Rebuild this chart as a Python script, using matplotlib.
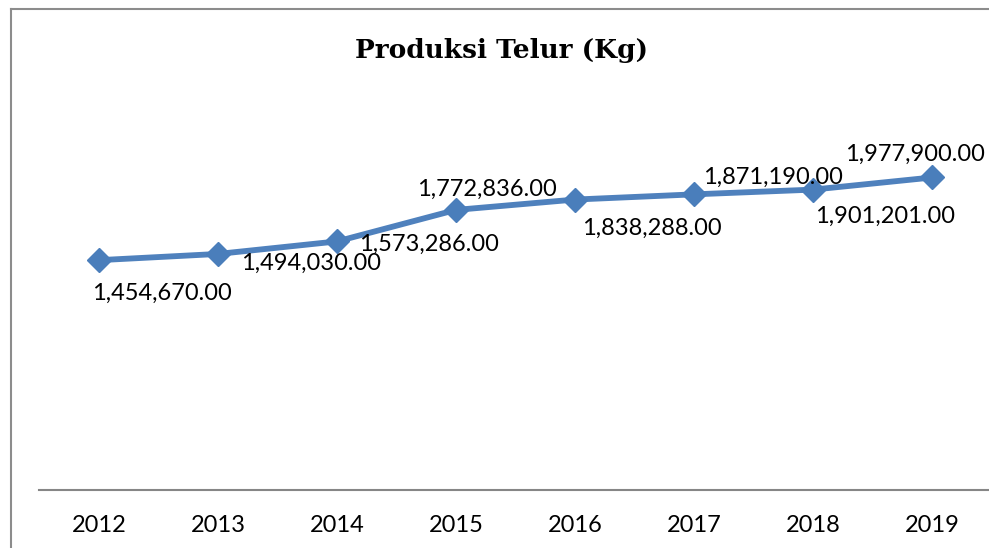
import matplotlib
matplotlib.use("Agg")
import matplotlib.pyplot as plt
from matplotlib.lines import Line2D

years = ["2012", "2013", "2014", "2015", "2016", "2017", "2018", "2019"]
production = [1454670, 1494030, 1573286, 1772836, 1838288, 1871190, 1901201, 1977900]
# label offsets in points (dx, dy) relative to each marker
label_offsets = [(45, -24), (67, -7), (66, -2), (22, 15), (55, -21), (57, 12), (52, -19), (-12, 17)]

W, H = 989, 548
fig = plt.figure(figsize=(W / 100, H / 100), dpi=100)
# axes: x from 39.5 to 991.5 px, y from 95 to 490 px (top-origin)
ax = fig.add_axes([39.5 / W, (H - 490) / H, (991.5 - 39.5) / W, (490 - 95) / H])
ax.set_xlim(-0.5, len(years) - 0.5)
ax.set_ylim(0, 2500000)

xs = list(range(len(years)))
ax.plot(xs, production, color="#4F81BD", lw=4.2, marker="D", markersize=12,
        markerfacecolor="#4A7EBB", markeredgecolor="#4A7EBB", solid_joinstyle="round", zorder=3)

font = "Lato"
for x, v, (dx, dy) in zip(xs, production, label_offsets):
    ax.annotate(f"{v:,.2f}", (x, v), xytext=(dx, dy), textcoords="offset points",
                ha="center", va="center", fontsize=17, family=font, color="black", zorder=4)

for s in ["left", "right", "top"]:
    ax.spines[s].set_visible(False)
ax.spines["bottom"].set_color("#868686")
ax.spines["bottom"].set_linewidth(1.5)
ax.set_yticks([])
ax.set_xticks(xs)
ax.set_xticklabels(years, fontsize=17, family=font)
ax.tick_params(axis="x", length=0, pad=18)

fig.text(502 / W, 1 - 50 / H, "Produksi Telur (Kg)", ha="center", va="center",
         fontsize=19, fontweight="bold", family="DejaVu Serif")

# chart border (left and top visible)
fig.add_artist(Line2D([10.5 / W, 10.5 / W], [0, 1 - 8.5 / H], transform=fig.transFigure,
                      color="#8c8c8c", lw=1.5))
fig.add_artist(Line2D([10.5 / W, 1], [1 - 8.5 / H, 1 - 8.5 / H], transform=fig.transFigure,
                      color="#8c8c8c", lw=1.5))

fig.savefig("out.png", dpi=100)
